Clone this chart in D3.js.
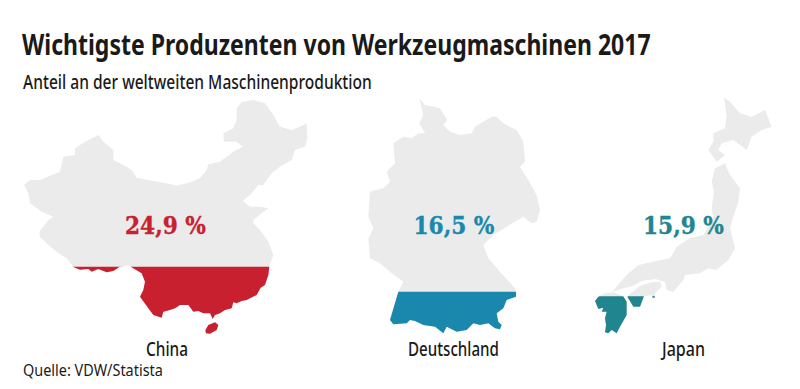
<!DOCTYPE html>
<html lang="de">
<head>
  <meta charset="UTF-8" />
  <title>Wichtigste Produzenten von Werkzeugmaschinen 2017</title>
  <script src="https://d3js.org/d3.v7.min.js"></script>
  <style>
    html, body { margin: 0; padding: 0; background: #fff; overflow: hidden; }
    svg { display: block; }
    text { font-family: "Noto Sans", sans-serif; fill: #1a1a1a; }
    .title { font-size: 29px; font-weight: 700; }
    .subtitle { font-size: 20px; font-weight: 500; }
    .name { font-size: 20px; font-weight: 500; text-anchor: middle; }
    .source { font-size: 16px; }
    .share { font-family: "DejaVu Serif", serif; font-size: 25px; font-weight: 700; text-anchor: middle; stroke-width: 0.4px; }
  </style>
</head>
<body>
<svg width="800" height="389"></svg>

<script>
const countries = ["China", "Deutschland", "Japan"];
const shares = [24.9, 16.5, 15.9];
const colors = ["#c8202f", "#1a88ad", "#21858f"];
const nameWidths = [42, 91, 43];
// where the coloured part starts, in outline units
const fillLevels = [515, 590, 604];

// outlines, one unit = 1/3 px
const chinaShapes = [
  [[12,270],[30,255],[60,255],[95,240],[120,230],[130,185],[165,180],[165,160],[195,140],[235,120],[250,140],[280,165],[280,195],[310,210],[335,225],[350,248],[400,258],[440,265],[470,272],[510,262],[540,250],[560,225],[565,208],[600,200],[640,170],[668,155],[650,140],[612,140],[610,115],[640,100],[650,75],[650,40],[665,22],[700,15],[735,25],[760,60],[780,95],[815,105],[840,95],[860,85],[862,130],[855,155],[825,165],[815,195],[780,215],[755,235],[730,270],[715,270],[690,300],[668,318],[690,335],[720,335],[745,340],[725,355],[700,375],[700,385],[720,405],[745,440],[760,480],[748,515],[745,540],[735,570],[722,578],[710,600],[680,615],[665,618],[650,625],[640,622],[635,640],[615,645],[600,655],[585,660],[578,672],[570,655],[550,655],[535,648],[520,650],[505,630],[480,630],[465,640],[450,645],[430,650],[425,668],[400,660],[385,640],[360,605],[370,585],[375,560],[365,535],[337,518],[325,510],[298,516],[280,528],[260,532],[235,522],[215,530],[205,522],[180,524],[160,516],[140,490],[110,470],[85,450],[60,425],[58,410],[85,375],[100,365],[65,350],[30,325],[25,295]],
  [[556,706],[565,690],[585,682],[595,690],[590,705],[570,716],[558,715]]
];
const germanyShapes = [
  [[178,10],[195,30],[240,40],[262,75],[250,90],[270,110],[300,120],[335,115],[345,95],[395,65],[410,65],[430,85],[470,105],[490,140],[495,200],[480,215],[505,255],[530,300],[540,345],[530,380],[515,385],[490,365],[440,395],[400,420],[370,450],[385,490],[420,530],[465,580],[468,590],[468,605],[440,615],[430,640],[410,655],[415,680],[425,690],[420,703],[405,700],[385,685],[360,690],[340,685],[320,705],[290,710],[260,695],[250,715],[225,695],[190,690],[165,678],[150,675],[140,685],[100,688],[90,675],[115,590],[130,560],[95,535],[60,505],[30,490],[25,430],[40,400],[25,365],[30,290],[70,280],[90,260],[80,230],[105,205],[100,145],[130,125],[155,130],[175,115],[195,115],[178,85],[190,60]]
];
const japanShapes = [
  [[462,8],[480,20],[510,55],[545,65],[585,45],[605,95],[575,105],[545,125],[530,165],[490,135],[455,145],[445,165],[465,180],[440,200],[415,165],[430,140],[430,115],[465,100],[470,60]],
  [[435,220],[465,205],[480,240],[510,280],[505,320],[490,365],[480,400],[495,460],[475,495],[440,525],[415,520],[390,535],[345,540],[340,555],[310,590],[290,585],[285,560],[255,552],[215,558],[190,572],[160,580],[125,592],[170,540],[205,510],[250,500],[300,490],[320,455],[360,430],[400,420],[430,370],[425,340],[432,290],[425,260]],
  [[172,605],[185,592],[195,585],[210,572],[245,562],[270,560],[275,575],[250,600],[222,603],[210,635],[190,635]],
  [[75,618],[85,605],[100,596],[130,592],[160,604],[170,620],[170,660],[150,695],[140,715],[125,705],[115,715],[105,712],[108,690],[105,670],[110,650],[95,650],[100,638],[85,642],[80,630]],
  [[244,598],[256,598],[254,608],[248,608]]
];
const outlines = [chinaShapes, germanyShapes, japanShapes];

const title = "Wichtigste Produzenten von Werkzeugmaschinen 2017";
const subtitle = "Anteil an der weltweiten Maschinenproduktion";
const source = "Quelle: VDW/Statista";

const svg = d3.select("svg");
const defs = svg.append("defs");

// the reference type is condensed, so squeeze each text to the width it has there
function squeeze(sel, x, y, width) {
  const natural = sel.node().getComputedTextLength();
  sel.attr("transform", `translate(${x},${y}) scale(${width / natural},1)`);
}

// outline units -> page, one frame per map
const frames = [
  { x: 20, y: 95, w: 300, h: 275, labelX: 167, shareX: 165.5 },
  { x: 360, y: 95, w: 180, h: 275, labelX: 453.5, shareX: 454 },
  { x: 570, y: 95, w: 210, h: 275, labelX: 683.5, shareX: 683.5 }
];

countries.forEach((name, i) => {
  const f = frames[i];
  const x = d3.scaleLinear().domain([0, f.w * 3]).range([f.x, f.x + f.w]);
  const y = d3.scaleLinear().domain([0, f.h * 3]).range([f.y, f.y + f.h]);
  const line = d3.line().x(d => x(d[0])).y(d => y(d[1])).curve(d3.curveLinearClosed);
  const path = outlines[i].map(s => line(s)).join("");
  const cut = y(fillLevels[i]);

  defs.append("clipPath").attr("id", "below-" + i)
    .append("rect").attr("x", f.x).attr("y", cut).attr("width", f.w).attr("height", f.y + f.h - cut);

  const g = svg.append("g");
  g.append("path").attr("d", path).attr("fill", "#ebebeb");
  g.append("path").attr("d", path).attr("fill", colors[i]).attr("clip-path", `url(#below-${i})`);

  g.append("text").attr("class", "share")
    .style("fill", colors[i]).style("stroke", colors[i])
    .text(d3.format(".1f")(shares[i]).replace(".", ",") + " %")
    .call(squeeze, f.shareX, 234, 81);

  g.append("text").attr("class", "name").text(name)
    .call(squeeze, f.labelX, 356, nameWidths[i]);
});

svg.append("text").attr("class", "title").text(title).call(squeeze, 22, 55, 629);
svg.append("text").attr("class", "subtitle").text(subtitle).call(squeeze, 23, 89, 349);
svg.append("text").attr("class", "source").text(source).call(squeeze, 23, 376, 140);
</script>
</body>
</html>
